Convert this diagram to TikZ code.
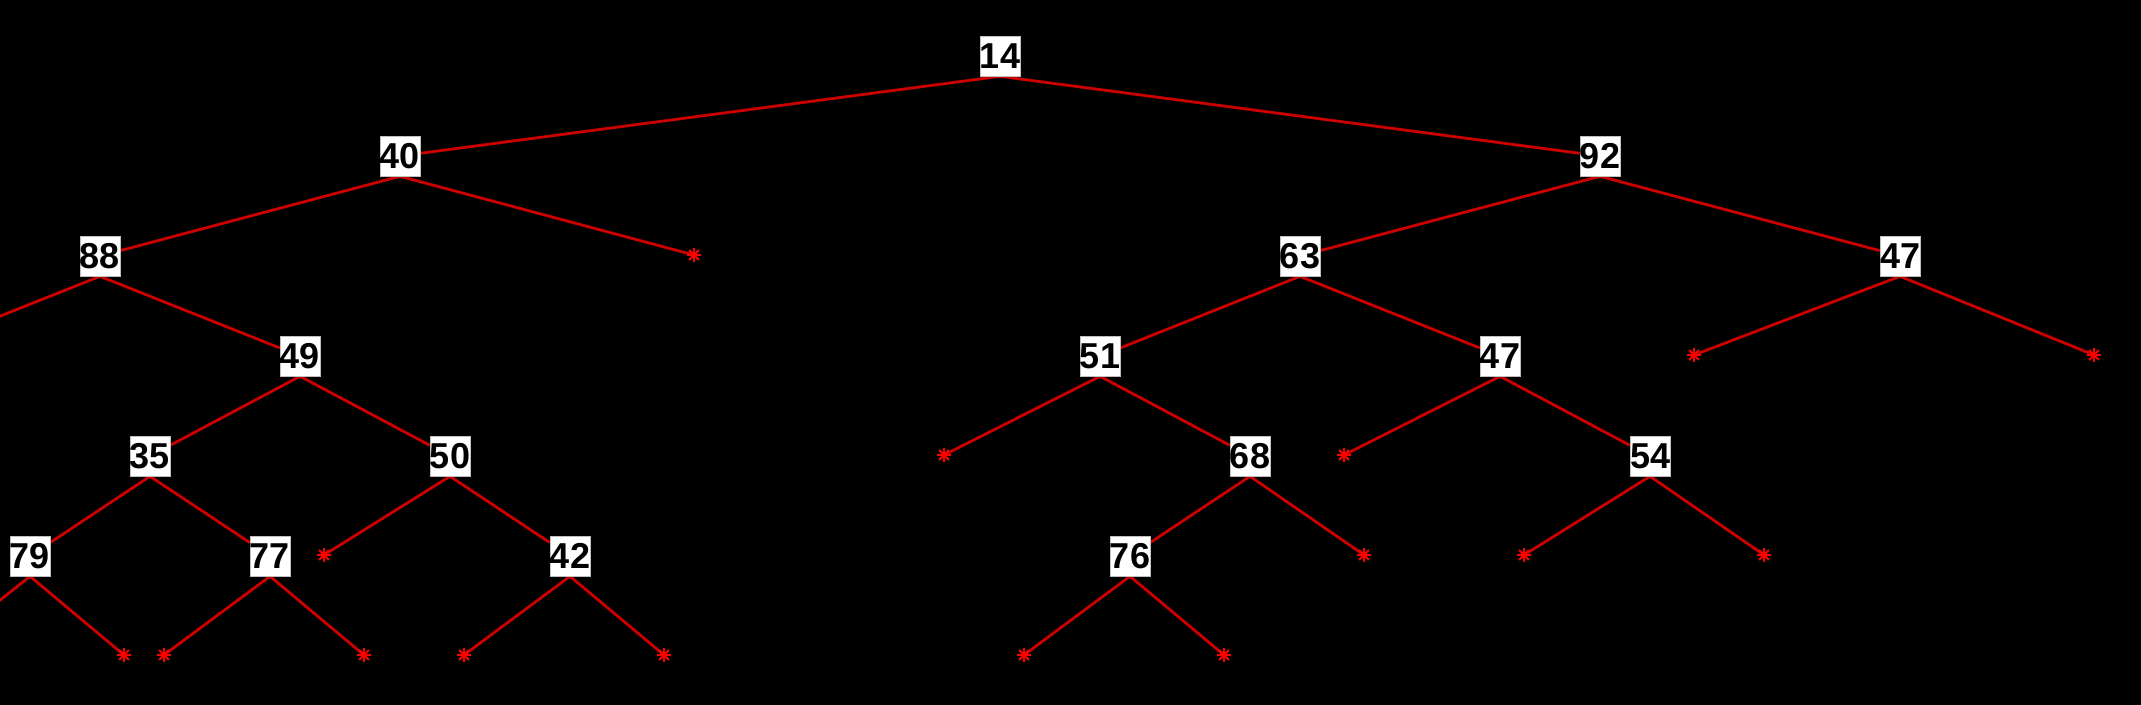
\documentclass[tikz,border=0pt]{standalone}
\usepackage{fontspec}
\setmainfont{Liberation Sans}
\usepackage{xcolor}

\pgfdeclarelayer{bg}
\pgfdeclarelayer{edges}
\pgfsetlayers{bg,edges,main}

\definecolor{edgered}{RGB}{205,0,0}
\definecolor{starred}{RGB}{255,0,0}

\tikzset{
  key/.style={fill=white, draw=gray!50, line width=.6pt, inner sep=0pt,
    minimum width=40pt, minimum height=40pt,
    font=\fontsize{36}{36}\selectfont\bfseries},
  edge/.style={edgered, line width=2.8pt},
  nilstar/.pic={
    \foreach \a in {0,45,90,135}
      \draw[starred, line width=2pt] (\a:7) -- (\a+180:7);
  }
}

\begin{document}
\begin{tikzpicture}[x=1pt, y=-1pt]
\useasboundingbox (0,0) rectangle (2141,704);
\begin{pgfonlayer}{bg}
\fill[black] (-10,-10) rectangle (2151,714);
\end{pgfonlayer}

% keys
\node[key] (n14) at (1000,56) {14};
\node[key] (n40) at (400,156) {40};
\node[key] (n92) at (1600,156) {92};
\node[key] (n88) at (100,256) {88};
\node[key] (n63) at (1300,256) {63};
\node[key] (n47a) at (1900,256) {47};
\node[key] (n49) at (300,356) {49};
\node[key] (n51) at (1100,356) {51};
\node[key] (n47b) at (1500,356) {47};
\node[key] (n35) at (150,456) {35};
\node[key] (n50) at (450,456) {50};
\node[key] (n68) at (1250,456) {68};
\node[key] (n54) at (1650,456) {54};
\node[key] (n79) at (30,556) {79};
\node[key] (n77) at (270,556) {77};
\node[key] (n42) at (570,556) {42};
\node[key] (n76) at (1130,556) {76};

% children cut off at the left edge
\coordinate (offa) at (-100,356);
\coordinate (offb) at (-70,656);

% empty leaves
\foreach \name/\x/\y in {s700/700/276, s1700/1700/376, s2100/2100/376,
  s950/950/476, s1350/1350/476, s330/330/576, s1370/1370/576,
  s1530/1530/576, s1770/1770/576, s130/130/676, s170/170/676,
  s370/370/676, s470/470/676, s670/670/676, s1030/1030/676,
  s1230/1230/676}
  \coordinate (\name) at (\x-6,\y-21);

\begin{pgfonlayer}{edges}
\foreach \a/\b in {n14/n40, n14/n92, n40/n88, n40/s700, n88/offa, n88/n49,
  n49/n35, n49/n50, n35/n79, n35/n77, n79/offb, n79/s130, n77/s170,
  n77/s370, n50/s330, n50/n42, n42/s470, n42/s670, n92/n63, n92/n47a,
  n63/n51, n63/n47b, n51/s950, n51/n68, n68/n76, n68/s1370, n76/s1030,
  n76/s1230, n47b/s1350, n47b/n54, n54/s1530, n54/s1770, n47a/s1700,
  n47a/s2100}
  \draw[edge] (\a.south) -- (\b);
\end{pgfonlayer}

\foreach \s in {s700, s1700, s2100, s950, s1350, s330, s1370, s1530,
  s1770, s130, s170, s370, s470, s670, s1030, s1230}
  \pic at (\s) {nilstar};
\end{tikzpicture}
\end{document}
